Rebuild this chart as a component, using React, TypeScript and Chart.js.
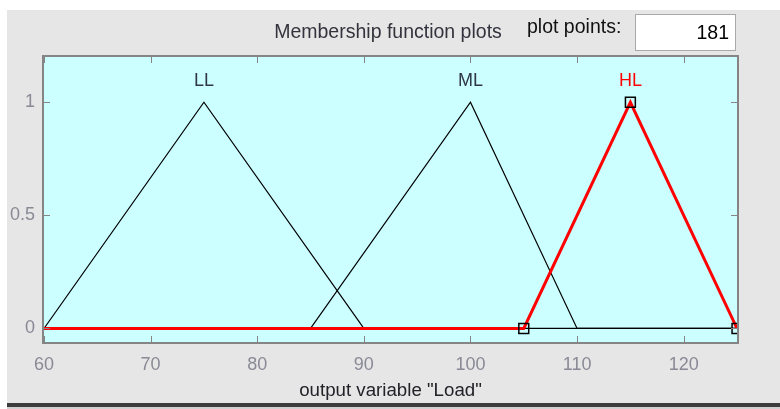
import { useEffect, useRef } from "react";
import { Chart, registerables } from "chart.js";

Chart.register(...registerables);

// Output variable "Load": universe of discourse and axis ticks
const outputName = "Load";
const xRange = [60, 125];
const yRange = [-0.06, 1.2];
const xTicks = [60, 70, 80, 90, 100, 110, 120];
const yTicks = [0, 0.5, 1];
const plotPoints = 181;

// Triangular membership functions, given by their break points
const mfNames = ["LL", "ML", "HL"];
const llX = [60, 75, 90, 125];
const llY = [0, 1, 0, 0];
const mlX = [60, 85, 100, 110, 125];
const mlY = [0, 0, 1, 0, 0];
const hlX = [60, 105, 115, 125];
const hlY = [0, 0, 1, 0];

const FONT = '"Liberation Sans", Arial, Helvetica, sans-serif';
const PANEL = "#e6e6e6";
const AXES_BG = "#ccffff";
const AXIS_GRAY = "#858585";
const TICK_TEXT = "#8a8a96";

const toPoints = (xs: number[], ys: number[]) => xs.map((x, i) => ({ x, y: ys[i] }));
const peakOf = (xs: number[], ys: number[]) => xs[ys.indexOf(1)];

const mfShapes = [
  { name: mfNames[0], xs: llX, ys: llY },
  { name: mfNames[1], xs: mlX, ys: mlY },
  { name: mfNames[2], xs: hlX, ys: hlY },
];
const selectedMf = "HL";

const panelPlugin = {
  id: "fisPanel",
  beforeDraw(chart: any) {
    const { ctx, width, height, chartArea } = chart;
    ctx.save();
    ctx.fillStyle = "#ffffff";
    ctx.fillRect(0, 0, width, height);
    ctx.fillStyle = PANEL;
    ctx.fillRect(7, 10, width - 7, 393);
    ctx.fillStyle = "#3c3c3c";
    ctx.fillRect(7, 403, width - 7, 4);
    ctx.fillStyle = "#d0d0d0";
    ctx.fillRect(7, 407, width - 7, 2);

    // axes background
    ctx.fillStyle = AXES_BG;
    ctx.fillRect(chartArea.left, chartArea.top, chartArea.right - chartArea.left, chartArea.bottom - chartArea.top);

    // header: title and plot points field
    ctx.font = `19.5px ${FONT}`;
    ctx.textBaseline = "middle";
    ctx.textAlign = "center";
    ctx.fillStyle = "#33333d";
    ctx.fillText("Membership function plots", 388, 33);
    ctx.textAlign = "left";
    ctx.fillStyle = "#111111";
    ctx.fillText("plot points:", 527, 28);

    ctx.fillStyle = "#ffffff";
    ctx.fillRect(635, 14, 101, 37);
    ctx.strokeStyle = "#a9a9a9";
    ctx.lineWidth = 1;
    ctx.strokeRect(635.5, 14.5, 100, 36);
    ctx.fillStyle = "#000000";
    ctx.textAlign = "right";
    ctx.fillText(String(plotPoints), 729, 34);
    ctx.restore();
  },
  afterDatasetsDraw(chart: any) {
    const { ctx, chartArea } = chart;
    const xs = chart.scales.x;
    const ys = chart.scales.y;
    const { left, right, top, bottom } = chartArea;
    ctx.save();

    // axes box
    ctx.strokeStyle = AXIS_GRAY;
    ctx.lineWidth = 2;
    ctx.strokeRect(left - 1, top - 1, right - left + 2, bottom - top + 2);

    // inward tick marks on all four sides
    ctx.lineWidth = 1;
    ctx.beginPath();
    const len = 6;
    xTicks.forEach((v) => {
      const px = Math.round(xs.getPixelForValue(v)) + 0.5;
      ctx.moveTo(px, bottom);
      ctx.lineTo(px, bottom - len);
      ctx.moveTo(px, top);
      ctx.lineTo(px, top + len);
    });
    yTicks.forEach((v) => {
      const py = Math.round(ys.getPixelForValue(v)) + 0.5;
      ctx.moveTo(left, py);
      ctx.lineTo(left + len, py);
      ctx.moveTo(right, py);
      ctx.lineTo(right - len, py);
    });
    ctx.stroke();

    // membership function names above their peaks
    ctx.font = `18px ${FONT}`;
    ctx.textAlign = "center";
    ctx.textBaseline = "middle";
    mfShapes.forEach((mf) => {
      const px = xs.getPixelForValue(peakOf(mf.xs, mf.ys));
      const py = ys.getPixelForValue(1) - 21;
      ctx.fillStyle = mf.name === selectedMf ? "#ff0000" : "#2f3645";
      ctx.fillText(mf.name, px, py);
    });
    ctx.restore();
  },
};

export default function App() {
  const canvasRef = useRef<HTMLCanvasElement | null>(null);

  useEffect(() => {
    const canvas = canvasRef.current;
    if (!canvas) return;

    // selected MF first so it is painted on top
    const ordered = [
      mfShapes.find((m) => m.name === selectedMf)!,
      ...mfShapes.filter((m) => m.name !== selectedMf),
    ];

    const datasets = ordered.map((mf) => {
      const sel = mf.name === selectedMf;
      return {
        label: mf.name,
        data: toPoints(mf.xs, mf.ys),
        borderColor: sel ? "#ff0000" : "#000000",
        borderWidth: sel ? 3 : 1.2,
        tension: 0,
        clip: 0,
        pointStyle: "rect" as const,
        pointRadius: sel ? mf.xs.map((x) => (x === xRange[0] ? 0 : 7)) : 0,
        pointBorderColor: "#000000",
        pointBorderWidth: 1.5,
        pointBackgroundColor: "rgba(0,0,0,0)",
        pointHoverRadius: 0,
        showLine: true,
        fill: false,
      };
    });

    const chart = new Chart(canvas, {
      type: "scatter",
      data: { datasets },
      plugins: [panelPlugin],
      options: {
        animation: false,
        responsive: false,
        devicePixelRatio: 1,
        events: [],
        layout: { padding: { top: 57, right: 43, left: 0, bottom: 0 } },
        plugins: {
          legend: { display: false },
          tooltip: { enabled: false },
          title: { display: false },
        },
        scales: {
          x: {
            type: "linear",
            min: xRange[0],
            max: xRange[1],
            grid: { display: false, drawTicks: false },
            border: { display: false },
            afterBuildTicks: (scale: any) => {
              scale.ticks = xTicks.map((value) => ({ value }));
            },
            afterFit: (scale: any) => {
              scale.height = 67;
            },
            ticks: {
              padding: 12,
              color: TICK_TEXT,
              font: { family: FONT, size: 18 },
              maxRotation: 0,
              callback: (v: any) => String(v),
            },
            title: {
              display: true,
              text: `output variable "${outputName}"`,
              color: "#222228",
              font: { family: FONT, size: 18.7 },
              padding: { top: 0, bottom: 7 },
            },
          },
          y: {
            type: "linear",
            min: yRange[0],
            max: yRange[1],
            grid: { display: false, drawTicks: false },
            border: { display: false },
            afterBuildTicks: (scale: any) => {
              scale.ticks = yTicks.map((value) => ({ value }));
            },
            afterFit: (scale: any) => {
              scale.width = 44;
            },
            ticks: {
              padding: 9,
              color: TICK_TEXT,
              font: { family: FONT, size: 18 },
              callback: (v: any) => String(v),
            },
          },
        },
      },
    });

    return () => chart.destroy();
  }, []);

  return (
    <div style={{ position: "fixed", left: 0, top: 0, width: 780, height: 409 }}>
      <canvas ref={canvasRef} width={780} height={409} style={{ display: "block", width: 780, height: 409 }} />
    </div>
  );
}
